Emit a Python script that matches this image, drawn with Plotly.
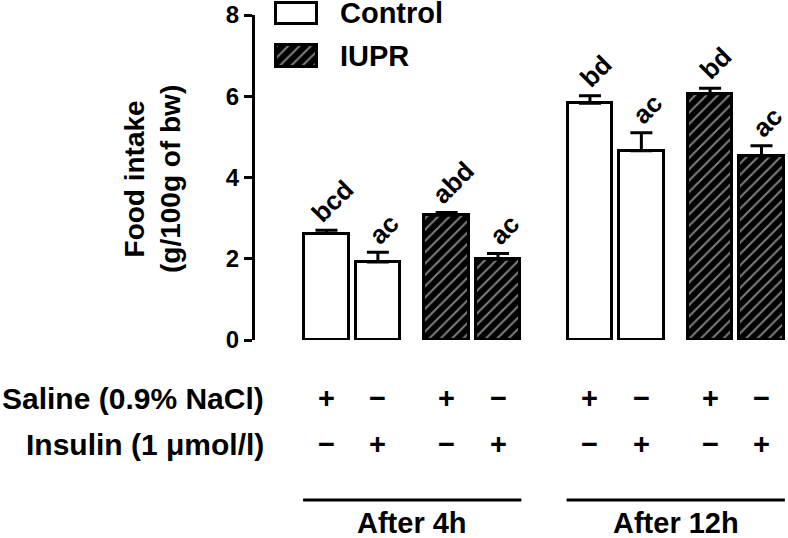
import plotly.graph_objects as go

# ---- data ----
time_groups = ["After 4h", "After 12h"]
series_names = ["Control", "IUPR"]
row_labels = ["Saline (0.9% NaCl)", "Insulin (1 μmol/l)"]
saline_marks = ["+", "−"]
insulin_marks = ["−", "+"]
# order: [4h saline, 4h insulin, 12h saline, 12h insulin]
control_mean = [2.62, 1.92, 5.83, 4.66]
control_sem = [0.08, 0.24, 0.18, 0.44]
iupr_mean = [3.07, 1.99, 6.06, 4.53]
iupr_sem = [0.07, 0.14, 0.14, 0.25]
control_letters = ["bcd", "ac", "bd", "ac"]
iupr_letters = ["abd", "ac", "bd", "ac"]
y_ticks = [0, 2, 4, 6, 8]

# ---- layout helpers ----
FONT = "Liberation Sans, Arial, sans-serif"
P = 2.337   # offset between series pairs within a time group
G = 5.126   # offset between time groups
W = 0.87    # bar width


def xpos(g, p, k):
    return g * G + p * P + k


def paper_y(py):
    return (340 - py) / 340


ctrl_x = [xpos(g, 0, k) for g in range(2) for k in range(2)]
iupr_x = [xpos(g, 1, k) for g in range(2) for k in range(2)]

fig = go.Figure()

err_style = dict(type="data", symmetric=False, arrayminus=[0] * 4,
                 color="black", thickness=3, width=11)

fig.add_trace(go.Bar(
    x=ctrl_x, y=control_mean, width=W, name="Control",
    marker=dict(color="white", line=dict(color="black", width=3)),
    error_y=dict(array=control_sem, **err_style), showlegend=False))

pattern = dict(shape="/", fgcolor="white", bgcolor="black", size=8, solidity=0.25)
fig.add_trace(go.Bar(
    x=iupr_x, y=iupr_mean, width=W, name="IUPR",
    marker=dict(color="black", line=dict(color="black", width=3), pattern=pattern),
    error_y=dict(array=iupr_sem, **err_style), showlegend=False))

# legend swatches on a pixel-like overlay axis pair
fig.add_trace(go.Bar(
    x=[296], y=[21], base=[316], width=41, xaxis="x2", yaxis="y2",
    marker=dict(color="white", line=dict(color="black", width=3)), showlegend=False))
fig.add_trace(go.Bar(
    x=[296], y=[21.5], base=[273.5], width=41, xaxis="x2", yaxis="y2",
    marker=dict(color="black", line=dict(color="black", width=3), pattern=pattern),
    showlegend=False))

ann = []
# significance letters
for xs, means, sems, letters in [(ctrl_x, control_mean, control_sem, control_letters),
                                 (iupr_x, iupr_mean, iupr_sem, iupr_letters)]:
    for x, m, s, t in zip(xs, means, sems, letters):
        ann.append(dict(x=x, y=m + s, xref="x", yref="y", text=f"<b>{t}</b>",
                        textangle=-45, showarrow=False, xanchor="center", yanchor="bottom",
                        xshift=6, yshift=0, font=dict(family=FONT, size=26, color="black")))

# treatment table
all_x = sorted(ctrl_x + iupr_x)
for i, x in enumerate(all_x):
    k = i % 2
    ann.append(dict(x=x, y=paper_y(398), xref="x", yref="paper", text=f"<b>{saline_marks[k]}</b>",
                    showarrow=False, xanchor="center", yanchor="middle",
                    font=dict(family=FONT, size=29, color="black")))
    ann.append(dict(x=x, y=paper_y(444), xref="x", yref="paper", text=f"<b>{insulin_marks[k]}</b>",
                    showarrow=False, xanchor="center", yanchor="middle",
                    font=dict(family=FONT, size=29, color="black")))
for lbl, py in zip(row_labels, [398, 444]):
    ann.append(dict(x=(266 - 255) / 533, y=paper_y(py), xref="paper", yref="paper",
                    text=f"<b>{lbl}</b>", showarrow=False, xanchor="right", yanchor="middle",
                    font=dict(family=FONT, size=30, color="black")))

shapes = []
for g, name in enumerate(time_groups):
    xs = [xpos(g, p, k) for p in range(2) for k in range(2)]
    x0, x1 = min(xs) - W / 2 - 0.02, max(xs) + W / 2 + 0.02
    shapes.append(dict(type="line", xref="x", yref="paper", x0=x0, x1=x1,
                       y0=paper_y(500), y1=paper_y(500), line=dict(color="black", width=3)))
    ann.append(dict(x=(x0 + x1) / 2, y=paper_y(523), xref="x", yref="paper",
                    text=f"<b>{name}</b>", showarrow=False, xanchor="center", yanchor="middle",
                    font=dict(family=FONT, size=29, color="black")))

# legend labels
for name, py in zip(series_names, [13.5, 56]):
    ann.append(dict(x=(338 - 255) / 533, y=paper_y(py), xref="paper", yref="paper",
                    text=f"<b>{name}</b>", showarrow=False, xanchor="left", yanchor="middle",
                    font=dict(family=FONT, size=29, color="black")))

# y-axis title
ann.append(dict(x=(152 - 255) / 533, y=paper_y(179), xref="paper", yref="paper",
                text="<b>Food intake</b><br><b>(g/100g of bw)</b>", textangle=-90,
                showarrow=False, xanchor="center", yanchor="middle",
                font=dict(family=FONT, size=28, color="black")))

fig.update_layout(
    width=788, height=538,
    margin=dict(l=255, r=0, t=0, b=198, autoexpand=False),
    paper_bgcolor="white", plot_bgcolor="rgba(0,0,0,0)",
    barmode="overlay", bargap=0,
    xaxis=dict(range=[-1.391, 8.979], visible=False, fixedrange=True),
    yaxis=dict(range=[0, 8], domain=[0, (340 - 15) / 340], tickvals=y_ticks,
               ticks="outside", ticklen=8, tickwidth=3, tickcolor="black",
               showline=True, linewidth=3, linecolor="black", showgrid=False,
               zeroline=False, automargin=False,
               tickfont=dict(family=FONT, size=24, color="black", weight="bold")),
    xaxis2=dict(range=[255, 788], domain=[0, 1], anchor="y2", visible=False),
    yaxis2=dict(range=[0, 340], domain=[0, 1], anchor="x2", visible=False),
    annotations=ann, shapes=shapes,
)

fig.write_html("out.html", config={"displayModeBar": False},
               post_script="document.body.style.margin='0px';")
